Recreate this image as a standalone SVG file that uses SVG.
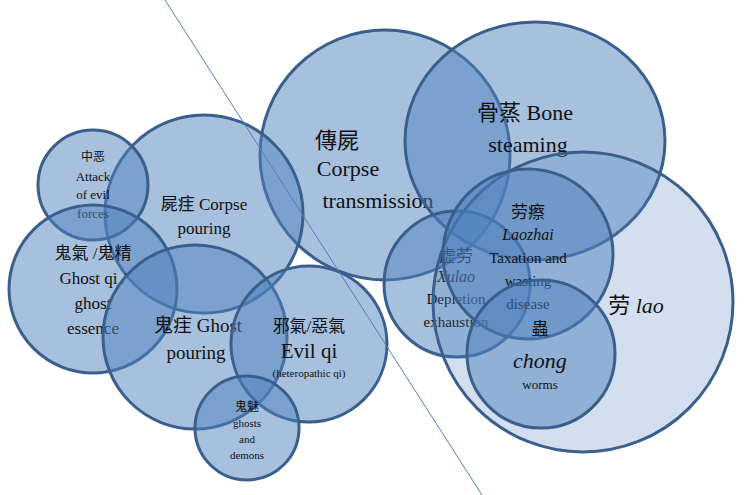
<svg xmlns="http://www.w3.org/2000/svg" width="744" height="495" viewBox="0 0 744 495">
<style>
.c{fill:#4f81bd;fill-opacity:0.5;stroke:#3a5f8d;stroke-width:3}
.l{fill:#4f81bd;fill-opacity:0.25;stroke:#3a5f8d;stroke-width:3}
text{font-family:"Liberation Serif","Noto Sans CJK SC",serif;fill:#111;text-anchor:middle}
.i{font-style:italic}
</style>
<rect width="744" height="495" fill="#fff"/>
<g id="corpse-transmission"><circle class="c" cx="385" cy="155" r="125"/>
<text x="337" y="148" font-size="22">傳屍</text><text x="348" y="176" font-size="22">Corpse</text><text x="378" y="208" font-size="22">transmission</text></g>
<g id="bone-steaming"><ellipse class="c" cx="535" cy="141" rx="130" ry="119"/>
<text x="525" y="120" font-size="22">骨蒸 Bone</text><text x="528" y="152" font-size="22">steaming</text></g>
<g id="xulao"><circle class="c" cx="457" cy="284" r="73"/>
<text x="456" y="262" font-size="17">虚劳</text><text x="456" y="282" font-size="16" class="i">Xulao</text><text x="456" y="304" font-size="15">Depletion</text><text x="456" y="327" font-size="15">exhaustion</text></g>
<g id="lao"><circle class="l" cx="583" cy="302" r="150"/>
<text x="636" y="313" font-size="22">劳 <tspan class="i">lao</tspan></text></g>
<g id="laozhai"><circle class="c" cx="528" cy="254" r="85"/>
<text x="528" y="218" font-size="17">劳瘵</text><text x="528" y="240" font-size="16" class="i">Laozhai</text><text x="528" y="263" font-size="15">Taxation and</text><text x="528" y="286" font-size="15">wasting</text><text x="528" y="309" font-size="15">disease</text></g>
<g id="chong"><circle class="c" cx="541" cy="354" r="74"/>
<text x="540" y="335" font-size="17">蟲</text><text x="540" y="368" font-size="22" class="i">chong</text><text x="540" y="389" font-size="13">worms</text></g>
<g id="corpse-pouring"><circle class="c" cx="204" cy="214" r="99"/>
<text x="204" y="210" font-size="17">屍疰  Corpse</text><text x="204" y="234" font-size="17">pouring</text></g>
<g id="attack-evil"><circle class="c" cx="93" cy="185" r="55"/>
<text x="93" y="161" font-size="12">中恶</text><text x="93" y="181" font-size="13">Attack</text><text x="93" y="199" font-size="13">of evil</text><text x="93" y="218" font-size="13">forces</text></g>
<g id="ghost-qi"><circle class="c" cx="93" cy="289" r="84"/>
<text x="93" y="259" font-size="17">鬼氣 /鬼精</text><text x="93" y="284" font-size="17">Ghost qi /</text><text x="93" y="309" font-size="17">ghost</text><text x="93" y="334" font-size="17">essence</text></g>
<g id="ghost-pouring"><circle class="c" cx="195" cy="337" r="92"/>
<text x="198" y="332" font-size="19">鬼疰 Ghost</text><text x="196" y="359" font-size="19">pouring</text></g>
<g id="evil-qi"><circle class="c" cx="309" cy="344" r="78"/>
<text x="309" y="332" font-size="17">邪氣/惡氣</text><text x="309" y="358" font-size="21">Evil qi</text><text x="309" y="377" font-size="11">(heteropathic qi)</text></g>
<g id="ghosts-demons"><circle class="c" cx="247" cy="428" r="52"/>
<text x="247" y="411" font-size="12">鬼魅</text><text x="247" y="427" font-size="11">ghosts</text><text x="247" y="443" font-size="11">and</text><text x="247" y="459" font-size="11">demons</text></g>
<g id="connectors"><line x1="165" y1="0" x2="482" y2="495" stroke="#4f81bd" stroke-width="1"/></g>
</svg>
